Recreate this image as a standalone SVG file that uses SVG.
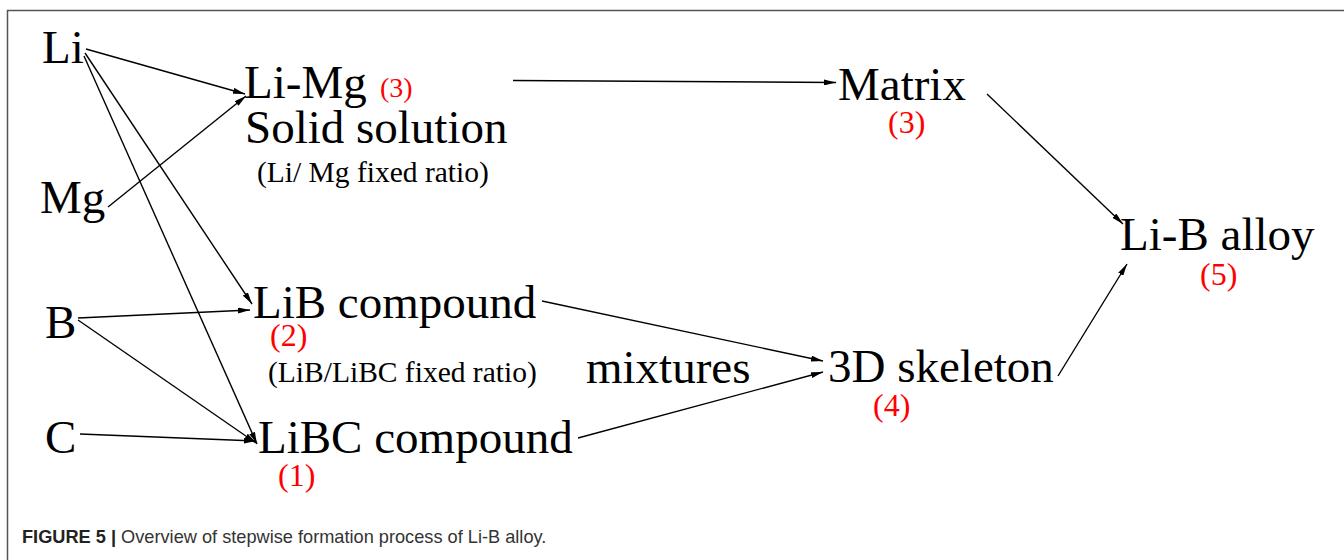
<svg xmlns="http://www.w3.org/2000/svg" width="1344" height="560" viewBox="0 0 1344 560">
<defs>
<marker id="ah" viewBox="0 0 12 6" refX="12" refY="3" markerWidth="12" markerHeight="6" markerUnits="userSpaceOnUse" orient="auto">
<path d="M0,0 L12,3 L0,6 Z" fill="#000"/>
</marker>
<style>
.t{font-family:"Liberation Serif","Times New Roman",serif;font-size:47px;fill:#000}
.s{font-family:"Liberation Serif","Times New Roman",serif;font-size:29.5px;fill:#000}
.r{font-family:"Liberation Serif","Times New Roman",serif;font-size:32px;fill:#ff0000}
.cap{font-family:"Liberation Sans",Arial,sans-serif;font-size:18.2px;fill:#333}
.e{stroke:#000;stroke-width:1.4;fill:none;marker-end:url(#ah)}
</style>
</defs>
<rect width="1344" height="560" fill="#fff"/>
<path d="M7.5,560 V10.5 H1344" fill="none" stroke="#555" stroke-width="1.5"/>
<g id="connectors">
<line class="e" x1="86" y1="49" x2="245" y2="94"/>
<line class="e" x1="108" y1="207" x2="246" y2="96"/>
<line class="e" x1="85" y1="53" x2="252" y2="304"/>
<line class="e" x1="84" y1="56" x2="257" y2="444"/>
<line class="e" x1="78" y1="318" x2="250" y2="310"/>
<line class="e" x1="78" y1="320" x2="256" y2="443"/>
<line class="e" x1="80" y1="434" x2="256" y2="441"/>
<line class="e" x1="513" y1="80.5" x2="836" y2="82.5"/>
<line class="e" x1="987" y1="94" x2="1123" y2="224"/>
<line class="e" x1="1058" y1="376" x2="1127" y2="264"/>
<line class="e" x1="542" y1="301" x2="823" y2="361"/>
<line class="e" x1="578" y1="438" x2="823" y2="372"/>
</g>
<g id="li"><text class="t" x="42" y="63">Li</text></g>
<g id="mg"><text class="t" x="40" y="213">Mg</text></g>
<g id="b"><text class="t" x="45" y="338">B</text></g>
<g id="c"><text class="t" x="45" y="453">C</text></g>
<g id="limg">
<text class="t" x="244" y="98">Li-Mg</text>
<text class="r" x="380" y="97" style="font-size:28px">(3)</text>
<text class="t" x="245" y="143">Solid solution</text>
<text class="s" x="257" y="182">(Li/ Mg fixed ratio)</text>
</g>
<g id="lib">
<text class="t" x="253" y="318">LiB compound</text>
<text class="r" x="270" y="346">(2)</text>
<text class="s" x="268" y="382">(LiB/LiBC fixed ratio)</text>
</g>
<g id="libc">
<text class="t" x="258" y="453">LiBC compound</text>
<text class="r" x="278" y="486">(1)</text>
</g>
<g id="mixtures"><text class="t" x="586" y="383">mixtures</text></g>
<g id="matrix">
<text class="t" x="838" y="100">Matrix</text>
<text class="r" x="888" y="133">(3)</text>
</g>
<g id="skeleton">
<text class="t" x="828" y="382">3D skeleton</text>
<text class="r" x="873" y="416">(4)</text>
</g>
<g id="alloy">
<text class="t" x="1120" y="250">Li-B alloy</text>
<text class="r" x="1200" y="285">(5)</text>
</g>
<g id="caption">
<text class="cap" x="22" y="543"><tspan font-weight="bold" fill="#222">FIGURE 5 |</tspan> Overview of stepwise formation process of Li-B alloy.</text>
</g>
</svg>
